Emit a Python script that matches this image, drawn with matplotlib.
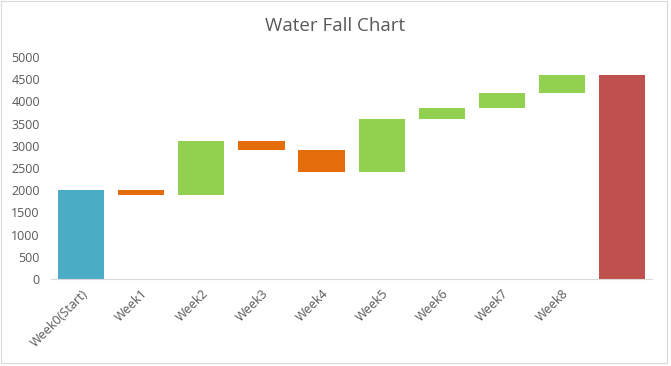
import numpy as np
import matplotlib
matplotlib.use("Agg")
import matplotlib.pyplot as plt

# Data
labels = ["Week0(Start)", "Week1", "Week2", "Week3", "Week4",
          "Week5", "Week6", "Week7", "Week8", ""]
start = 2000
changes = [-100, 1200, -200, -500, 1200, 250, 350, 400]

c_start = "#4BACC6"
c_down = "#E46C0A"
c_up = "#92D050"
c_total = "#C0504D"
txt = "#595959"

plt.rcParams['font.family'] = ['Open Sans', 'DejaVu Sans']

# Build bars: start, floating changes, total
levels = np.cumsum([start] + changes)
heights = [start]
bottoms = [0]
colors = [c_start]
for prev, d in zip(levels[:-1], changes):
    heights.append(abs(d))
    bottoms.append(prev + min(d, 0))
    colors.append(c_down if d < 0 else c_up)
heights.append(levels[-1])
bottoms.append(0)
colors.append(c_total)

fig = plt.figure(figsize=(6.71, 3.66), dpi=100)
ax = fig.add_axes([0.076, 0.238, 0.896, 0.606])

x = np.arange(len(labels))
ax.bar(x, heights, bottom=bottoms, color=colors, width=0.77)

ax.set_xlim(-0.5, len(labels) - 0.5)
ax.set_ylim(0, 5000)
ax.set_yticks(np.arange(0, 5001, 500))
ax.set_xticks(x)
ax.set_xticklabels(labels, rotation=45, ha='right', rotation_mode='anchor')

for s in ['top', 'right', 'left']:
    ax.spines[s].set_visible(False)
ax.spines['bottom'].set_color('#D9D9D9')
ax.tick_params(axis='both', length=0, colors=txt, labelsize=9)
ax.tick_params(axis='y', pad=8)
ax.tick_params(axis='x', pad=6)

fig.text(0.5, 0.93, "Water Fall Chart", ha='center', va='center',
         fontsize=13.5, color=txt)

# faint chart border
fig.patches.append(plt.Rectangle((0.002, 0.008), 0.992, 0.99, transform=fig.transFigure,
                                 fill=False, edgecolor='#D9D9D9', linewidth=0.8))

fig.savefig("out.png", dpi=100)
